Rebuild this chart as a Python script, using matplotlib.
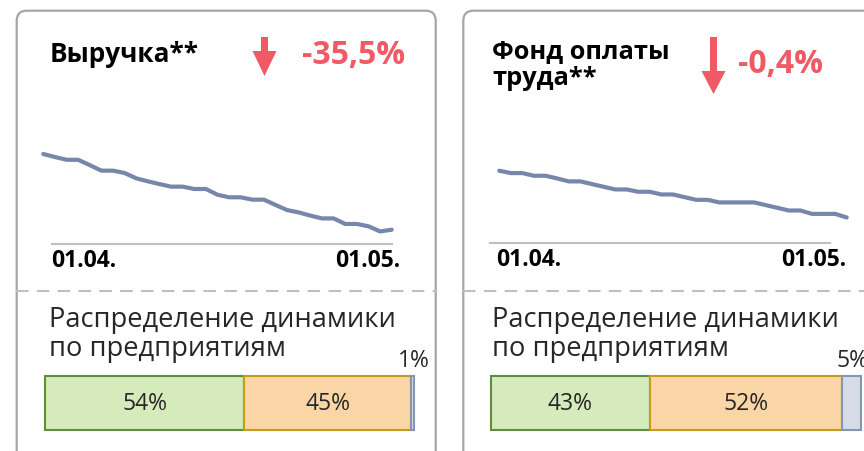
import matplotlib
matplotlib.use("Agg")
import matplotlib.pyplot as plt
from matplotlib.patches import FancyBboxPatch, FancyArrow
import numpy as np

plt.rcParams['font.family'] = ['Open Sans', 'DejaVu Sans']

# данные
days = np.arange(31)
revenue = [100.0, 98.6, 97.3, 97.3, 94.8, 92.2, 92.2, 91.1, 88.6, 87.2, 85.9,
           84.7, 84.7, 83.6, 83.6, 80.9, 79.7, 79.7, 78.6, 78.6, 76.1, 73.7,
           72.6, 71.1, 69.8, 69.8, 67.2, 67.2, 66.1, 63.7, 64.5]
payroll = [100.000, 99.980, 99.980, 99.957, 99.957, 99.934, 99.909, 99.909,
           99.886, 99.863, 99.840, 99.840, 99.820, 99.820, 99.797, 99.797,
           99.774, 99.751, 99.751, 99.729, 99.729, 99.729, 99.729, 99.706,
           99.683, 99.660, 99.660, 99.631, 99.631, 99.631, 99.600]
titles = [["Выручка**"], ["Фонд оплаты", "труда**"]]
changes = ["-35,5%", "-0,4%"]
tick_labels = ["01.04.", "01.05."]
subtitle = ["Распределение динамики", "по предприятиям"]
share_rev = [54, 45, 1]
share_pay = [43, 52, 5]

W, H = 864, 452
RED = "#EF5A65"
LINE = "#7786AB"
TXT = "#262626"
seg_fc = ["#D5EBBB", "#FAD5A5", "#D6DCE5"]
seg_ec = ["#5E8E3A", "#C89A1E", "#8497B0"]


def box(x0, y0, x1, y1):
    return [x0 / W, 1 - y1 / H, (x1 - x0) / W, (y1 - y0) / H]


fig = plt.figure(figsize=(8.64, 4.52), dpi=100)
bg = fig.add_axes([0, 0, 1, 1])
bg.set_xlim(0, W)
bg.set_ylim(H, 0)
bg.axis("off")

# рамки панелей
for x0, x1 in [(16.7, 435.7), (463.3, 900)]:
    bg.add_patch(FancyBboxPatch((x0, 11.7), x1 - x0, 500,
                                boxstyle="round,pad=0,rounding_size=10",
                                fc="white", ec="#A6A6A6", lw=1.6))
# пунктир
bg.plot([16, 436], [291.7, 291.7], color="#BFBFBF", lw=1.5, ls=(0, (6, 4)))
bg.plot([463, 864], [291.7, 291.7], color="#BFBFBF", lw=1.5, ls=(0, (6, 4)))

# заголовки
bg.text(50, 62, titles[0][0], fontsize=18.8, fontweight="bold",
        color="black", va="baseline")
bg.text(492, 58, titles[1][0], fontsize=18.3, fontweight="bold",
        color="black", va="baseline")
bg.text(492, 85, titles[1][1], fontsize=18.3, fontweight="bold",
        color="black", va="baseline")
bg.text(302, 64, changes[0], fontsize=23, fontweight="bold", color=RED,
        va="baseline")
bg.text(738, 73, changes[1], fontsize=23, fontweight="bold", color=RED,
        va="baseline")
bg.add_patch(FancyArrow(264.5, 38, 0, 39, width=7, head_width=24,
                        head_length=25, length_includes_head=True,
                        color=RED, lw=0))
bg.add_patch(FancyArrow(713.5, 38, 0, 57, width=7, head_width=24,
                        head_length=23, length_includes_head=True,
                        color=RED, lw=0))

for x in (49, 492):
    bg.text(x, 327, subtitle[0], fontsize=19.6, color=TXT, va="baseline")
    bg.text(x, 356, subtitle[1], fontsize=19.6, color=TXT, va="baseline")


def line_panel(rect, vals, ylim, spine, labels_x):
    ax = fig.add_axes(rect)
    ax.plot(days, vals, color=LINE, lw=3, clip_on=False,
            solid_joinstyle="round", solid_capstyle="round")
    ax.set_xlim(0, 30)
    ax.set_ylim(*ylim)
    for s in ["top", "left", "right"]:
        ax.spines[s].set_visible(False)
    ax.spines["bottom"].set_bounds(*spine)
    ax.spines["bottom"].set_color("#BFBFBF")
    ax.spines["bottom"].set_linewidth(1.5)
    ax.set_xticks([])
    ax.set_yticks([])
    ax.patch.set_alpha(0)
    for lx, lab in zip(labels_x, tick_labels):
        ax.text(lx, -0.03, lab, transform=ax.get_xaxis_transform(),
                ha="center", va="top", fontsize=16.5, fontweight="bold",
                color="black")


line_panel(box(43.3, 100, 391.7, 245), revenue, (57.8, 125.8),
           (0.72, 30), (3.46, 27.9))
line_panel(box(499.3, 100, 846.7, 243.5), payroll, (99.386, 100.614),
           (-0.76, 28.56), (2.56, 27.18))


def bar_panel(rect, shares, out_y):
    ax = fig.add_axes(rect)
    left = 0
    for v, fc, ec in zip(shares, seg_fc, seg_ec):
        ax.barh(0, v, left=left, height=1, color=fc, edgecolor=ec, lw=1.5,
                clip_on=False)
        c = left + v / 2
        if v >= 10:
            ax.text(c, 0, f"{v}%", ha="center", va="center", fontsize=16.5,
                    color=TXT)
        else:
            ax.text(c + 0.4, out_y, f"{v}%", ha="center", va="bottom",
                    fontsize=16.5, color=TXT)
        left += v
    ax.set_xlim(0, 100)
    ax.set_ylim(-0.5, 0.5)
    ax.axis("off")


bar_panel(box(45, 377, 414.3, 430.5), share_rev, 0.58)
bar_panel(box(490.7, 377, 860.7, 430.5), share_pay, 0.58)

fig.savefig("out.png", dpi=100)
